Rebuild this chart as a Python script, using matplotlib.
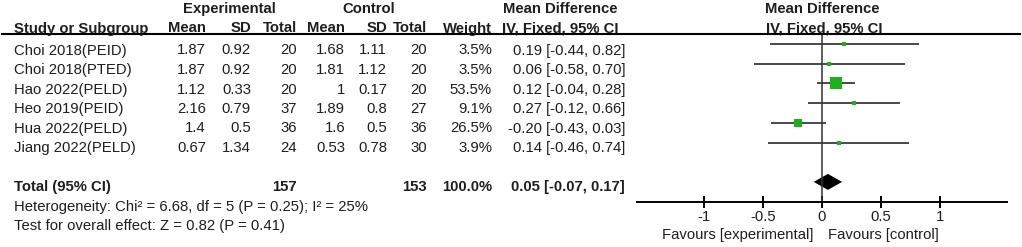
import matplotlib
matplotlib.use("Agg")
import matplotlib.pyplot as plt
import numpy as np

plt.rcParams['font.family'] = ['Liberation Sans', 'DejaVu Sans']

# data
studies = ["Choi 2018(PEID)", "Choi 2018(PTED)", "Hao 2022(PELD)",
           "Heo 2019(PEID)", "Hua 2022(PELD)", "Jiang 2022(PELD)"]
exp_mean = [1.87, 1.87, 1.12, 2.16, 1.4, 0.67]
exp_sd = [0.92, 0.92, 0.33, 0.79, 0.5, 1.34]
exp_n = [20, 20, 20, 37, 36, 24]
ctl_mean = [1.68, 1.81, 1, 1.89, 1.6, 0.53]
ctl_sd = [1.11, 1.12, 0.17, 0.8, 0.5, 0.78]
ctl_n = [20, 20, 20, 27, 36, 30]
weight = [3.5, 3.5, 53.5, 9.1, 26.5, 3.9]
md = [0.19, 0.06, 0.12, 0.27, -0.20, 0.14]
ci_lo = [-0.44, -0.58, -0.04, -0.12, -0.43, -0.46]
ci_hi = [0.82, 0.70, 0.28, 0.66, 0.03, 0.74]

total_exp = 157
total_ctl = 153
total_md, total_lo, total_hi = 0.05, -0.07, 0.17
heterogeneity = "Heterogeneity: Chi\u00b2 = 6.68, df = 5 (P = 0.25); I\u00b2 = 25%"
overall = "Test for overall effect: Z = 0.82 (P = 0.41)"
xticks = [-1, -0.5, 0, 0.5, 1]

W, H = 1022, 247
fig = plt.figure(figsize=(W / 100, H / 100), dpi=100)
fig.patch.set_facecolor("white")

txtcol = "#1e1e1e"
fs = 10.7


def put(x, y, s, ha="left", bold=False, **kw):
    fig.text(x / W, 1 - y / H, s, ha=ha, va="center", fontsize=fs,
             fontweight="bold" if bold else "normal", color=txtcol, **kw)


# header
put(229, 9, "Experimental", ha="center", bold=True)
put(369, 9, "Control", ha="center", bold=True)
put(560, 9, "Mean Difference", ha="center", bold=True)
put(822, 9, "Mean Difference", ha="center", bold=True)
row2 = 28.5
put(14, row2, "Study or Subgroup", bold=True)
cols = {"em": 206, "es": 251, "en": 297, "cm": 345, "cs": 387, "cn": 427, "w": 492}
put(cols["em"], row2, "Mean", ha="right", bold=True)
put(cols["es"], row2, "SD", ha="right", bold=True)
put(cols["en"], row2, "Total", ha="right", bold=True)
put(cols["cm"], row2, "Mean", ha="right", bold=True)
put(cols["cs"], row2, "SD", ha="right", bold=True)
put(cols["cn"], row2, "Total", ha="right", bold=True)
put(cols["w"], row2, "Weight", ha="right", bold=True)
put(560, row2, "IV, Fixed, 95% CI", ha="center", bold=True)
put(824, row2, "IV, Fixed, 95% CI", ha="center", bold=True)
fig.add_artist(plt.Line2D([2 / W, 1020 / W], [1 - 34 / H, 1 - 34 / H],
                          color="black", lw=1.5))

# rows of the table
ci_right = 625
for i, name in enumerate(studies):
    y = 50.5 + 19.5 * i
    put(14, y, name)
    put(cols["em"], y, f"{exp_mean[i]:g}", ha="right")
    put(cols["es"], y, f"{exp_sd[i]:g}", ha="right")
    put(cols["en"], y, f"{exp_n[i]}", ha="right")
    put(cols["cm"], y, f"{ctl_mean[i]:g}", ha="right")
    put(cols["cs"], y, f"{ctl_sd[i]:g}", ha="right")
    put(cols["cn"], y, f"{ctl_n[i]}", ha="right")
    put(cols["w"], y, f"{weight[i]:.1f}%", ha="right")
    put(ci_right, y, f"{md[i]:.2f} [{ci_lo[i]:.2f}, {ci_hi[i]:.2f}]", ha="right")

ty = 50.5 + 19.5 * 7
put(14, ty, "Total (95% CI)", bold=True)
put(cols["en"], ty, f"{total_exp}", ha="right", bold=True)
put(cols["cn"], ty, f"{total_ctl}", ha="right", bold=True)
put(cols["w"], ty, "100.0%", ha="right", bold=True)
put(ci_right, ty, f"{total_md:.2f} [{total_lo:.2f}, {total_hi:.2f}]", ha="right", bold=True)
put(14, ty + 19.5, heterogeneity)
put(14, ty + 39, overall)

# forest panel
x0, x1 = 636.7, 1007.3
top, bot = 34, 201.5
ax = fig.add_axes([x0 / W, 1 - bot / H, (x1 - x0) / W, (bot - top) / H])
ax.set_xlim(-1.57, 1.57)
row0, step = 44, 19.7
ax.set_ylim((bot - row0) / step, (top - row0) / step)
ax.patch.set_alpha(0)
for s in ["top", "left", "right"]:
    ax.spines[s].set_visible(False)
ax.spines["bottom"].set_linewidth(1.4)
ax.set_yticks([])
ax.set_xticks(xticks)
ax.set_xticklabels([f"{t:g}" for t in xticks], fontsize=fs, color=txtcol)
ax.tick_params(axis="x", direction="inout", length=8, width=1.4, pad=2)

ax.axvline(0, color="#333333", lw=1.1)
ypos = np.arange(len(studies))
ax.hlines(ypos, ci_lo, ci_hi, color="#3a3a3a", lw=1.3)
for i in range(len(studies)):
    side = max(0.8 * weight[i] ** 0.7, 4.0)
    ax.plot(md[i], ypos[i], marker="s", ms=side * 0.72, color="#19b219",
            mec="#19b219", mew=0)

dy = 8 / step
ax.fill([total_lo, total_md, total_hi, total_md],
        [7, 7 - dy, 7, 7 + dy], color="black", lw=0)

fig.text(813 / W, 1 - 235 / H, "Favours [experimental]", ha="right", va="center",
         fontsize=fs, color=txtcol)
fig.text(828 / W, 1 - 235 / H, "Favours [control]", ha="left", va="center",
         fontsize=fs, color=txtcol)

fig.savefig("out.png", dpi=100)
